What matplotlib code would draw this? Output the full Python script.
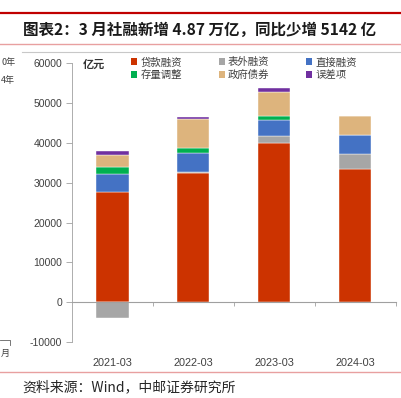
import numpy as np
import matplotlib.pyplot as plt
from matplotlib.lines import Line2D
from matplotlib.patches import Patch

plt.rcParams['font.family'] = ['Noto Sans CJK SC', 'DejaVu Sans']

# 数据（亿元）
categories = ['2021-03', '2022-03', '2023-03', '2024-03']
loans = [27790, 32400, 39950, 33420]      # 贷款融资
offbal = [-4020, 250, 1910, 3840]         # 表外融资
direct = [4520, 4700, 3940, 4780]         # 直接融资
stock_adj = [1760, 1500, 1080, 0]         # 存量调整
govt = [2940, 7040, 6030, 4770]           # 政府债券
error = [1000, 680, 930, 0]               # 误差项

series = [
    ('贷款融资', loans, '#CC3300'),
    ('表外融资', offbal, '#A6A6A6'),
    ('直接融资', direct, '#4472C4'),
    ('存量调整', stock_adj, '#00B050'),
    ('政府债券', govt, '#DDB47D'),
    ('误差项', error, '#7030A0'),
]
yticks = [-10000, 0, 10000, 20000, 30000, 40000, 50000, 60000]

W, H = 401, 398
fig = plt.figure(figsize=(W / 100, H / 100), dpi=100)
ax = fig.add_axes([72 / W, 1 - 342 / H, 323.5 / W, 278.7 / H])

x = np.arange(len(categories))
pos_base = np.zeros(len(categories))
neg_base = np.zeros(len(categories))
for name, vals, col in series:
    v = np.array(vals, dtype=float)
    bottom = np.where(v >= 0, pos_base, neg_base)
    ax.bar(x, v, 0.4, bottom=bottom, color=col, edgecolor='white', linewidth=0.3, zorder=2)
    pos_base += np.where(v >= 0, v, 0)
    neg_base += np.where(v < 0, v, 0)

ax.set_xlim(-0.5, 3.5)
ax.set_ylim(-10000, 60000)
ax.set_yticks(yticks)
ax.set_yticklabels([str(t) for t in yticks], family='Liberation Sans', fontsize=7.5, color='#404040')
ax.tick_params(axis='y', direction='out', length=4, width=0.6, color='#A0A0A0', pad=3)

# x轴在0处，标签放到底部
ax.spines['bottom'].set_position(('data', 0))
ax.spines['bottom'].set_color('#A0A0A0')
ax.spines['bottom'].set_zorder(3)
ax.set_xticks(x)
ax.set_xticklabels(categories, family='Liberation Sans', fontsize=7.8, color='#404040')
ax.set_xticks([0.5, 1.5, 2.5, 3.5], minor=True)
ax.tick_params(axis='x', which='major', length=0, pad=40)
ax.tick_params(axis='x', which='minor', direction='out', length=3, width=0.6, color='#A0A0A0')
ax.spines['left'].set_color('#A0A0A0')
ax.spines['left'].set_linewidth(0.6)
ax.spines['top'].set_visible(False)
ax.spines['right'].set_visible(False)

ax.text(83 / W, 1 - 64 / H, '亿元', transform=fig.transFigure, fontsize=8,
        fontweight='bold', style='italic', color='#333333', va='center')

# 图例：按行排列，需要重新排序
order = [0, 3, 1, 4, 2, 5]
handles = [Patch(facecolor=series[i][2], edgecolor='none') for i in order]
labels = [series[i][0] for i in order]
fig.legend(handles, labels, loc='upper left', bbox_to_anchor=(126 / W, 1 - 52 / H),
           ncol=3, frameon=False, fontsize=7.5, handlelength=0.6, handleheight=0.6,
           handletextpad=0.3, columnspacing=3.5, labelspacing=0.25, borderpad=0,
           labelcolor='#404040')

# 标题与装饰线
fig.add_artist(Line2D([0, 1], [1 - 13 / H] * 2, color='#C00000', linewidth=1.6))
fig.add_artist(Line2D([0, 1], [1 - 44 / H] * 2, color='#E8A0A0', linewidth=1.0))
fig.add_artist(Line2D([22 / W, 1], [1 - 52 / H] * 2, color='#C8C8C8', linewidth=0.8))
fig.add_artist(Line2D([0, 1], [1 - 372 / H] * 2, color='#E8A0A0', linewidth=1.0))
fig.text(200 / W, 1 - 30 / H, '图表2：3 月社融新增 4.87 万亿，同比少增 5142 亿',
         ha='center', va='center', fontsize=11.2, fontweight='bold', color='#1A1A1A')
fig.text(22 / W, 1 - 387 / H, '资料来源：Wind，中邮证券研究所', ha='left', va='center',
         fontsize=10, color='#262626')

# 左侧相邻图残留的文字
fig.text(1 / W, 1 - 63 / H, '0年', ha='left', va='center', fontsize=6.5, color='#404040')
fig.text(1 / W, 1 - 81 / H, '4年', ha='left', va='center', fontsize=6.5, color='#404040')
fig.text(1 / W, 1 - 353 / H, '月', ha='left', va='center', fontsize=6.5, color='#404040')
fig.add_artist(Line2D([0, 10 / W, 10 / W], [1 - 340 / H, 1 - 340 / H, 1 - 345 / H],
                      color='#606060', linewidth=0.6))

fig.savefig('out.png', dpi=100)
